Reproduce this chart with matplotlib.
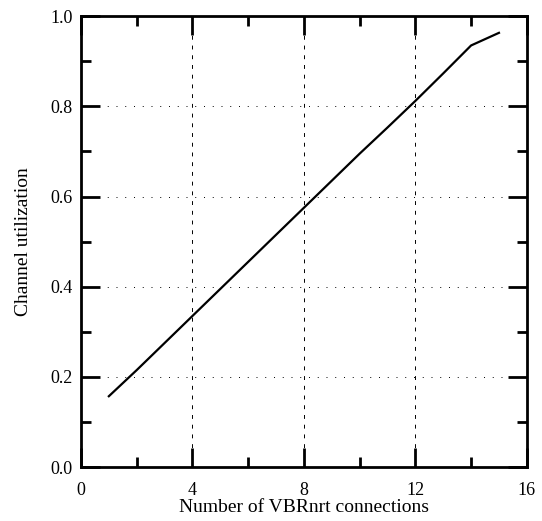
import numpy as np
import matplotlib
matplotlib.use('Agg')
from matplotlib import pyplot as plt
from matplotlib.ticker import MultipleLocator

plt.rcParams['font.family'] = ['Liberation Serif', 'DejaVu Serif']

conexiones = [1, 2, 3, 4, 5, 6, 7, 8, 9, 10, 11, 12, 13, 14, 15]
utilizacion = [0.157, 0.215, 0.275, 0.335, 0.395, 0.455, 0.515, 0.575,
               0.635, 0.695, 0.753, 0.812, 0.873, 0.935, 0.963]

fig = plt.figure(figsize=(5.42, 5.21), dpi=100)
ax = fig.add_axes([0.1494, 0.1036, 0.8226, 0.8654])

ax.plot(conexiones, utilizacion, 'k-', lw=1.6)

ax.set_xlim(0, 16)
ax.set_ylim(0, 1.0)
ax.xaxis.set_major_locator(MultipleLocator(4))
ax.xaxis.set_minor_locator(MultipleLocator(2))
ax.yaxis.set_major_locator(MultipleLocator(0.2))
ax.yaxis.set_minor_locator(MultipleLocator(0.1))
ax.yaxis.set_major_formatter(plt.FormatStrFormatter('%.1f'))

ax.tick_params(which='both', direction='in', top=True, right=True, width=2, labelsize=13)
ax.tick_params(which='major', length=14)
ax.tick_params(which='minor', length=7)
ax.tick_params(axis='x', which='major', pad=11)
ax.tick_params(axis='y', which='major', pad=6)
for s in ax.spines.values():
    s.set_linewidth(2)

ax.xaxis.grid(True, color='k', ls=(0, (4, 6)), lw=0.7)
ax.yaxis.grid(True, color='k', ls=(0, (1, 8)), lw=0.7)

ax.set_xlabel('Number of VBRnrt connections', fontsize=14, labelpad=0)
ax.set_ylabel('Channel utilization', fontsize=14, labelpad=13)

plt.savefig('out.png', dpi=100)
